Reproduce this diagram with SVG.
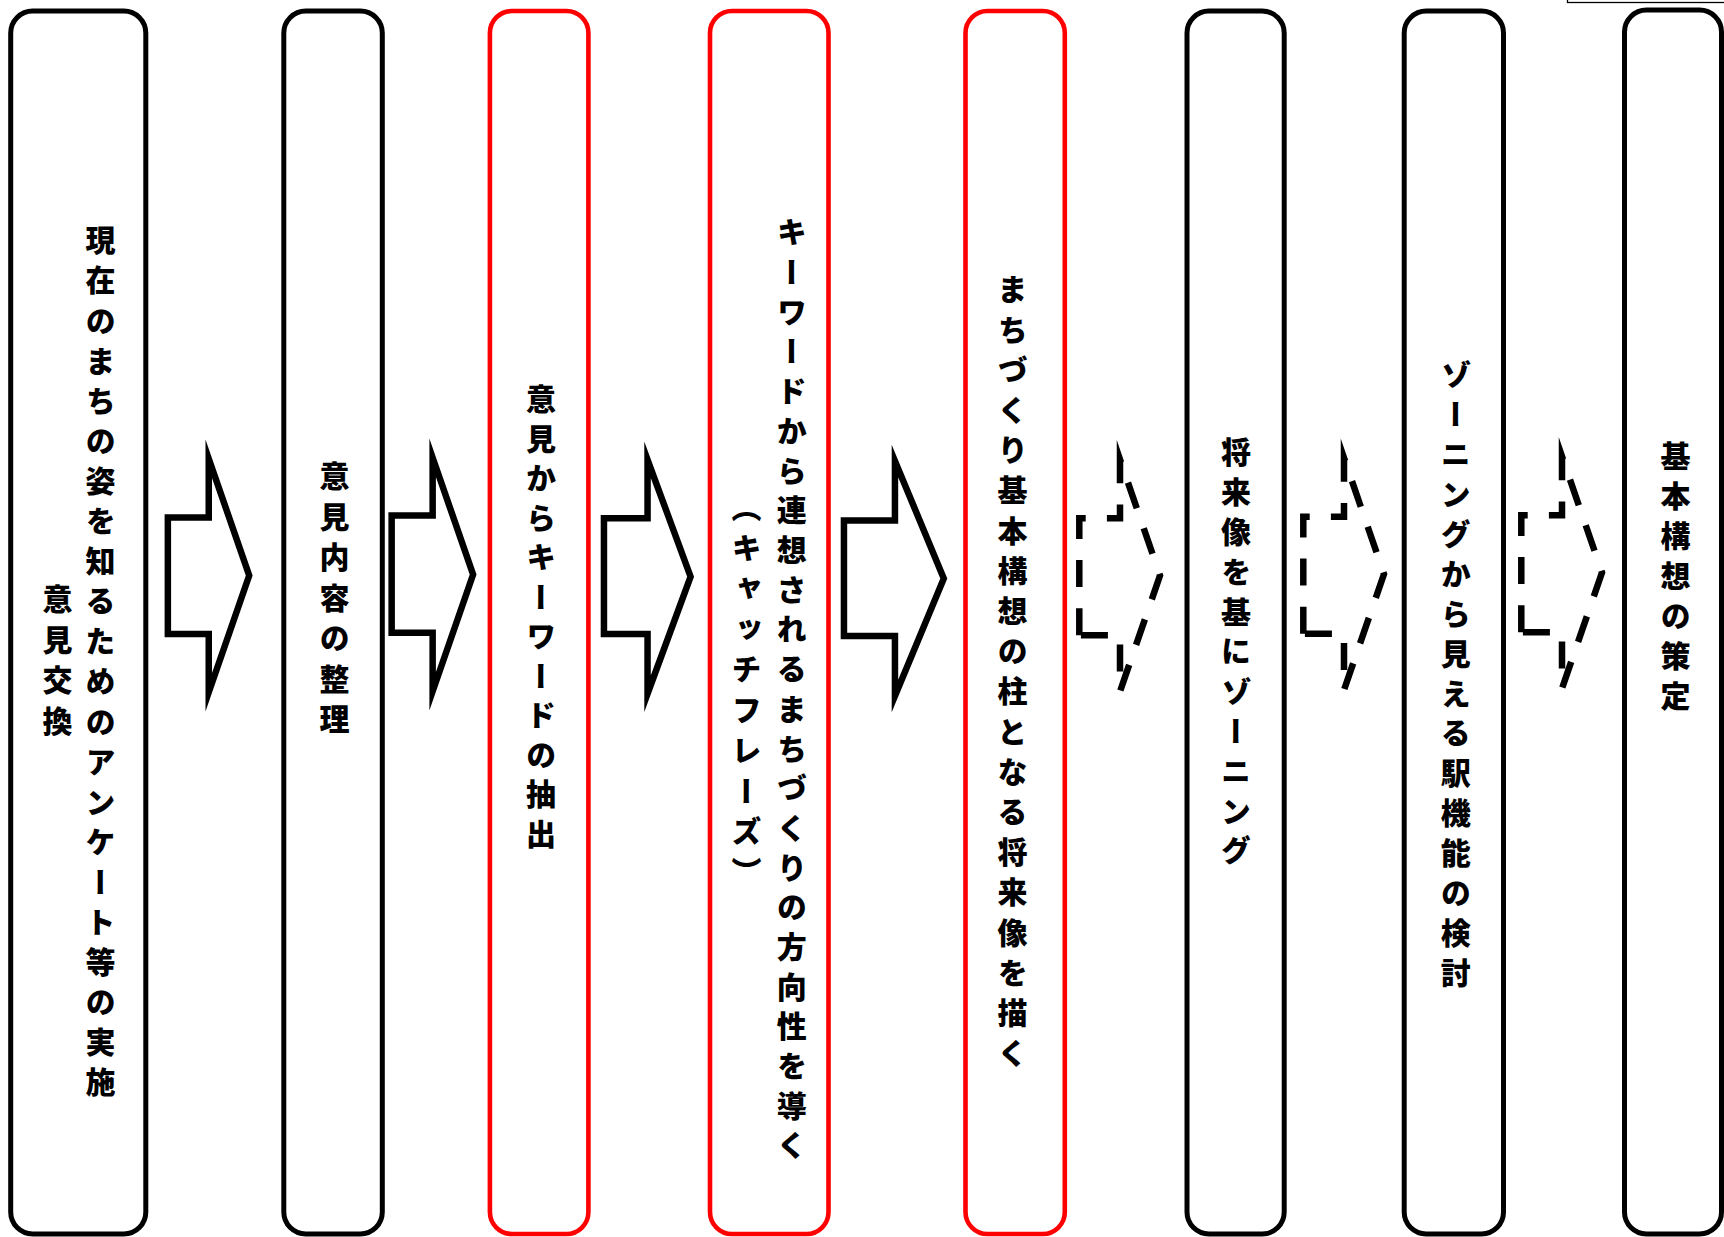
<svg xmlns="http://www.w3.org/2000/svg" width="1724" height="1237" viewBox="0 0 1724 1237">
<style>
.box{fill:#fff;stroke:#000;stroke-width:5}
.red{stroke:#ff0000;stroke-width:4.6}
.t{font-family:"Noto Sans CJK JP","Noto Sans CJK SC",sans-serif;font-size:30px;font-weight:900;fill:#000;writing-mode:vertical-rl}
.arr{fill:#fff;stroke:#000;stroke-width:6.5;stroke-linejoin:miter;stroke-miterlimit:10}
.dash{fill:none;stroke:#000;stroke-width:6.5;stroke-linejoin:miter;stroke-miterlimit:10;stroke-dasharray:27 21.2}
</style>
<defs>
<path id="darr" d="M1079.3,635.3 L1079.3,518.3 L1120,518.3 L1120,459.5 L1160,575.5 L1120,691.5 L1120,635.3 Z"/>
</defs>
<rect x="1567.5" y="-20" width="200" height="22.5" fill="none" stroke="#000" stroke-width="1.3"/>
<g id="n1"><rect class="box" x="10.7" y="11" width="135.1" height="1223" rx="22"/>
<text class="t" x="100.5" y="225" letter-spacing="10.1">現在のまちの姿を知るためのアンケート等の実施</text>
<text class="t" x="57.5" y="584" letter-spacing="10.5">意見交換</text></g>
<g id="n2"><rect class="box" x="283.8" y="11" width="98.5" height="1223" rx="22"/>
<text class="t" x="334.5" y="461" letter-spacing="10.5">意見内容の整理</text></g>
<g id="n3"><rect class="box red" x="489.9" y="11" width="98.5" height="1223" rx="22"/>
<text class="t" x="541" y="384" letter-spacing="9.5">意見からキーワードの抽出</text></g>
<g id="n4"><rect class="box red" x="710" y="11" width="118.5" height="1223" rx="22"/>
<text class="t" x="791.7" y="217" letter-spacing="9.7">キーワードから連想されるまちづくりの方向性を導く</text>
<text class="t" x="746.5" y="492" letter-spacing="10.5">（キャッチフレーズ）</text></g>
<g id="n5"><rect class="box red" x="965.5" y="11" width="99.3" height="1223" rx="22"/>
<text class="t" x="1012.6" y="274" letter-spacing="10.2">まちづくり基本構想の柱となる将来像を描く</text></g>
<g id="n6"><rect class="box" x="1187" y="11" width="97.2" height="1223" rx="22"/>
<text class="t" x="1236" y="437" letter-spacing="9.8">将来像を基にゾーニング</text></g>
<g id="n7"><rect class="box" x="1404.2" y="11" width="99.3" height="1223" rx="22"/>
<text class="t" x="1455.7" y="359" letter-spacing="9.9">ゾーニングから見える駅機能の検討</text></g>
<g id="n8"><rect class="box" x="1624.5" y="10" width="97" height="1224" rx="22"/>
<text class="t" x="1675.6" y="441" letter-spacing="10">基本構想の策定</text></g>
<g id="connectors">
<path class="arr" d="M167.85,517.55 L208.75,517.55 L208.75,458.7 L249.2,575.5 L208.75,692.3 L208.75,634.05 L167.85,634.05 Z"/>
<path class="arr" d="M391.65,515.55 L432.65,515.55 L432.65,457.7 L473.1,574.5 L432.65,691.3 L432.65,632.75 L391.65,632.75 Z"/>
<path class="arr" d="M603.95,518.25 L647.55,518.25 L647.55,459.8 L690.6,576.7 L647.55,693.7 L647.55,634.05 L603.95,634.05 Z"/>
<path class="arr" d="M843.95,520.55 L894.95,520.55 L894.95,461 L943.8,578.5 L894.95,696 L894.95,636.05 L843.95,636.05 Z"/>
<use href="#darr" class="dash"/>
<use href="#darr" class="dash" transform="translate(224,-1.5)"/>
<use href="#darr" class="dash" transform="translate(442,-3)"/>
</g>
</svg>
